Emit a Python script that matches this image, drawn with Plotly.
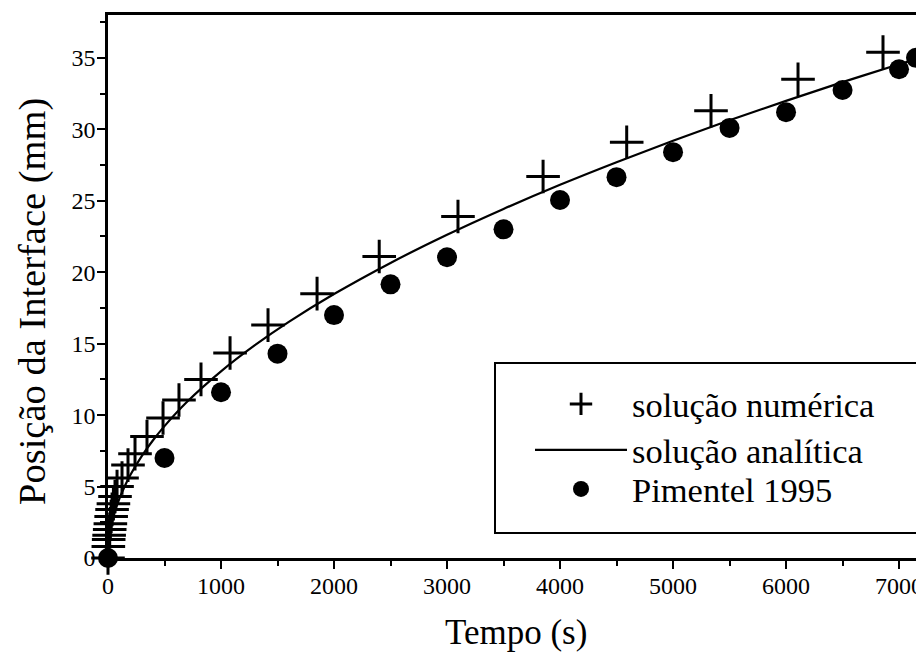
import plotly.graph_objects as go

# Solução numérica (+)
num_t = [0, 3, 6, 10, 15, 21, 28, 36, 48, 62, 80, 124, 177, 239, 345, 487, 628,
         823, 1080, 1416, 1850, 2400, 3097, 3850, 4590, 5336, 6106, 6858]
num_y = [0, 0.8, 1.3, 1.6, 2.0, 2.4, 2.9, 3.4, 3.8, 4.3, 5.0, 5.6, 6.5, 7.3, 8.5,
         9.8, 11.06, 12.5, 14.35, 16.3, 18.5, 21.1, 23.9, 26.7, 29.1, 31.3, 33.5, 35.4]

# Solução analítica (line)
ana_t = [0, 5, 10, 20, 40, 60, 100, 150, 200, 300, 400, 500, 700, 1000, 1300, 1600,
         2000, 2500, 3000, 3500, 4000, 4500, 5000, 5500, 6000, 6500, 7000, 7200]
ana_y = [0, 0.92, 1.31, 1.85, 2.61, 3.20, 4.13, 5.06, 5.84, 7.15, 8.26, 9.23, 10.93,
         13.06, 14.89, 16.52, 18.47, 20.65, 22.62, 24.43, 26.12, 27.70, 29.20, 30.63,
         31.99, 33.30, 34.55, 35.04]

# Pimentel 1995 (●)
pim_t = [0, 500, 1000, 1500, 2000, 2500, 3000, 3500, 4000, 4500, 5000, 5500, 6000,
         6500, 7000, 7150]
pim_y = [0, 7.0, 11.6, 14.3, 17.0, 19.15, 21.05, 23.0, 25.05, 26.65, 28.4, 30.1,
         31.2, 32.75, 34.2, 35.0]

x_ticks = [0, 1000, 2000, 3000, 4000, 5000, 6000, 7000]
y_ticks = [0, 5, 10, 15, 20, 25, 30, 35]

FONT = "Liberation Serif"
X_MAX = 7150

inside = [i for i, t in enumerate(pim_t) if t < X_MAX]
edge = [i for i, t in enumerate(pim_t) if t >= X_MAX]

fig = go.Figure()
fig.add_trace(go.Scatter(
    x=num_t, y=num_y, mode="markers", name="solução numérica", legend="legend",
    marker=dict(symbol="cross-thin", size=24, color="black",
                line=dict(color="black", width=3)),
    cliponaxis=False,
))
fig.add_trace(go.Scatter(
    x=ana_t, y=ana_y, mode="lines", name="solução analítica", legend="legend2",
    line=dict(color="black", width=2.2, shape="spline"),
))
fig.add_trace(go.Scatter(
    x=[pim_t[i] for i in inside], y=[pim_y[i] for i in inside],
    mode="markers", name="Pimentel 1995", legendgroup="pim", legend="legend3",
    marker=dict(symbol="circle", size=20, color="black"),
    cliponaxis=False,
))
fig.add_trace(go.Scatter(
    x=[pim_t[i] for i in edge], y=[pim_y[i] for i in edge],
    mode="markers", name="Pimentel 1995", legendgroup="pim", showlegend=False,
    marker=dict(symbol="circle", size=20, color="black"),
    cliponaxis=True,
))

axis_common = dict(
    showgrid=False, zeroline=False, showline=True, linecolor="black", linewidth=2.5,
    ticks="outside", tickcolor="black", tickwidth=2,
    tickfont=dict(family=FONT, size=24, color="black"),
    ticklabeloverflow="allow", automargin=False,
)

fig.update_xaxes(
    range=[0, X_MAX], tickvals=x_ticks, ticklen=8, mirror=True,
    minor=dict(dtick=500, ticks="outside", ticklen=5, tickwidth=2, tickcolor="black"),
    ticklabelstandoff=-4,
    **axis_common,
)
fig.update_yaxes(
    range=[0, 38.0], tickvals=y_ticks, ticklen=8,
    minor=dict(dtick=2.5, ticks="outside", ticklen=5, tickwidth=2, tickcolor="black"),
    ticklabelstandoff=-3,
    **axis_common,
)

PLOT_L, PLOT_W, PLOT_B, PLOT_H = 108, 808, 558, 543


def px_x(p):
    return (p - PLOT_L) / PLOT_W


def px_y(p):
    return (PLOT_B - p) / PLOT_H


leg_common = dict(
    xanchor="left", yanchor="middle",
    font=dict(family=FONT, size=34.5, color="black"),
    itemwidth=92, bgcolor="rgba(0,0,0,0)", borderwidth=0,
    itemsizing="trace",
)

fig.update_layout(
    width=916, height=654,
    margin=dict(l=108, r=0, t=15, b=96, autoexpand=False),
    paper_bgcolor="white", plot_bgcolor="white",
    font=dict(family=FONT, color="black"),
    showlegend=True,
    legend=dict(x=px_x(530), y=px_y(404), **leg_common),
    legend2=dict(x=px_x(530), y=px_y(450), **leg_common),
    legend3=dict(x=px_x(530), y=px_y(489), **leg_common),
    shapes=[dict(
        type="rect", xref="paper", yref="paper",
        x0=px_x(495), x1=1.2, y0=px_y(533), y1=px_y(363),
        line=dict(color="black", width=2), fillcolor="rgba(0,0,0,0)", layer="below",
    )],
    annotations=[
        dict(text="Tempo (s)", xref="paper", yref="paper", x=px_x(516), y=px_y(632),
             xanchor="center", yanchor="middle", showarrow=False,
             font=dict(family=FONT, size=35, color="black")),
        dict(text="Posição da Interface (mm)", xref="paper", yref="paper",
             x=px_x(32), y=px_y(302), xanchor="center", yanchor="middle", textangle=-90,
             showarrow=False, font=dict(family=FONT, size=38.5, color="black")),
    ],
)

fig.write_html("out.html")
